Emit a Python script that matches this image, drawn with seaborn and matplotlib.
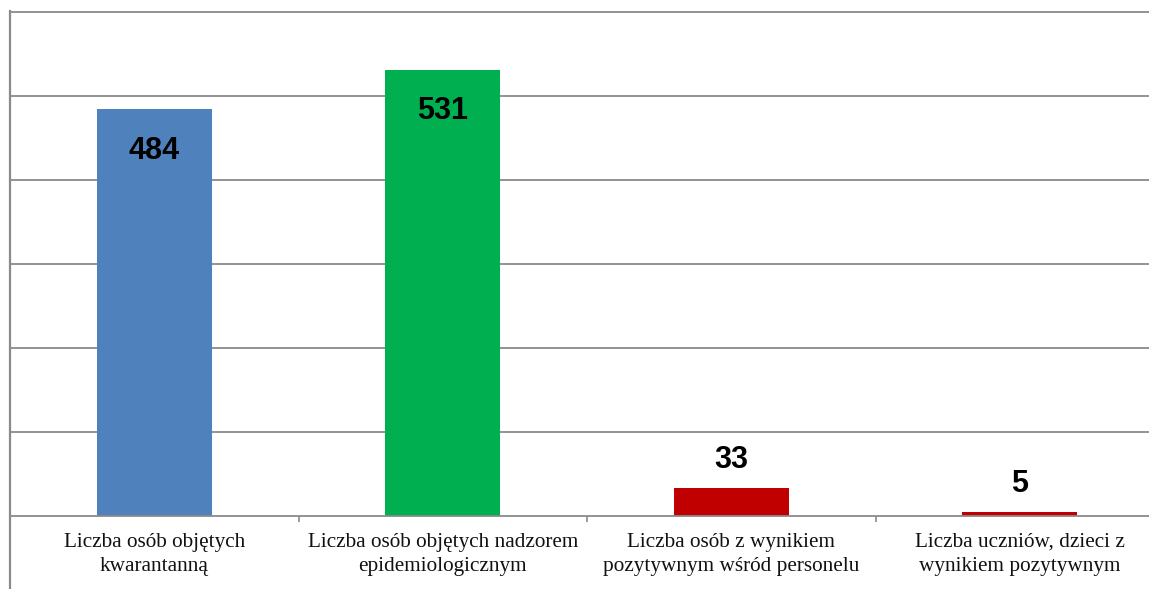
import matplotlib
matplotlib.use("Agg")
import matplotlib.pyplot as plt
import seaborn as sns
import pandas as pd

# Data
categories = [
    "Liczba osób objętych\nkwarantanną",
    "Liczba osób objętych nadzorem\nepidemiologicznym",
    "Liczba osób z wynikiem\npozytywnym wśród personelu",
    "Liczba uczniów, dzieci z\nwynikiem pozytywnym",
]
values = [484, 531, 33, 5]
colors = ["#4F81BD", "#00B050", "#C00000", "#C00000"]

df = pd.DataFrame({"kategoria": categories, "liczba": values})

sns.set_theme(style="white")

W, H = 1149, 589
fig = plt.figure(figsize=(W / 100, H / 100), dpi=100)
# plot area runs past the right edge of the image, as in the reference
ax = fig.add_axes([10 / W, 73 / H, 1154 / W, (516 - 11.5) / H])

sns.barplot(data=df, x="kategoria", y="liczba", hue="kategoria",
            palette=colors, width=0.4, legend=False, ax=ax, saturation=1,
            linewidth=0)

ax.set_ylim(0, 600)
ax.set_xlim(-0.5, len(categories) - 0.5)
ax.set_yticks(range(100, 601, 100))
ax.set_yticklabels([])
ax.tick_params(axis="y", length=0)
ax.yaxis.grid(True, color="#8a8a8a", linewidth=1.3)
ax.set_axisbelow(True)

# category separators on the x axis
ax.set_xticks([i + 0.5 for i in range(len(categories) - 1)], minor=True)
ax.tick_params(axis="x", which="minor", length=4, width=1.2, color="#8a8a8a",
               direction="out", bottom=True)
ax.tick_params(axis="x", which="major", length=0, pad=12)
for lab in ax.get_xticklabels():
    lab.set_fontfamily("Liberation Serif")
    lab.set_fontsize(15.3)
    lab.set_color("#111111")
    lab.set_linespacing(1.38)

ax.set_xlabel("")
ax.set_ylabel("")

ax.spines["right"].set_visible(False)
ax.spines["top"].set_color("#8a8a8a")
ax.spines["top"].set_linewidth(1.3)
ax.spines["bottom"].set_color("#8a8a8a")
ax.spines["bottom"].set_linewidth(1.3)
ax.spines["left"].set_color("#8a8a8a")
ax.spines["left"].set_linewidth(1.6)
ax.spines["left"].set_bounds(-95, 600)

# value labels: inside the tall bars, above the short ones
for i, v in enumerate(values):
    off = -30 if v > 100 else 20
    ax.annotate(str(v), (i, v), xytext=(0, off), textcoords="offset points",
                ha="center", va="center", fontsize=22, fontweight="bold",
                fontfamily="Liberation Sans", color="black")

fig.savefig("out.png", dpi=100)
